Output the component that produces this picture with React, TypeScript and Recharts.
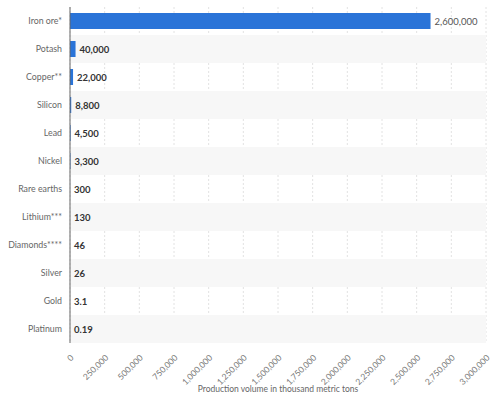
import React from "react";
import { BarChart, Bar, XAxis, YAxis, CartesianGrid, LabelList } from "recharts";

const minerals = ["Iron ore*", "Potash", "Copper**", "Silicon", "Lead", "Nickel", "Rare earths", "Lithium***", "Diamonds****", "Silver", "Gold", "Platinum"];
const volumes = [2600000, 40000, 22000, 8800, 4500, 3300, 300, 130, 46, 26, 3.1, 0.19];
const xTicks = [0, 250000, 500000, 750000, 1000000, 1250000, 1500000, 1750000, 2000000, 2250000, 2500000, 2750000, 3000000];

const data = minerals.map((name, i) => ({ name, value: volumes[i] }));

const W = 500;
const H = 402;
const margin = { top: 7, right: 14, left: 0, bottom: 0 };
const xAxisH = 59;
const yAxisW = 70;
const band = (H - margin.top - margin.bottom - xAxisH) / minerals.length;
const plotLeft = margin.left + yAxisW;
const plotW = W - plotLeft - margin.right;

const fmt = (v: number) => v.toLocaleString("en-US");
const font = "Lato, sans-serif";

function ValueLabel(props: any) {
  const { x, y, width, height, value, index } = props;
  return (
    <text
      x={x + width + 4}
      y={y + height / 2}
      dy={3.5}
      fontSize={9.5}
      fontFamily={font}
      fontWeight={index === 0 ? 400 : 700}
      fill={index === 0 ? "#555" : "#333"}
    >
      {fmt(value)}
    </text>
  );
}

function XTick(props: any) {
  const { x, y, payload } = props;
  return (
    <text x={x} y={y + 3} transform={`rotate(-45 ${x} ${y + 3})`} textAnchor="end" dy={6} fontSize={8.5} fontFamily={font} fill="#777">
      {fmt(payload.value)}
    </text>
  );
}

function YTick(props: any) {
  const { x, y, payload } = props;
  return (
    <text x={x} y={y} dy={3} textAnchor="end" fontSize={8.8} fontFamily={font} fill="#666">
      {payload.value}
    </text>
  );
}

function Band(props: any) {
  const { y, height, index } = props;
  if (index % 2 === 0) return null;
  return <rect x={plotLeft + 1} y={y + height / 2 - band / 2} width={plotW - 1} height={band} fill="#f7f7f7" />;
}

export default function App() {
  return (
    <div style={{ position: "absolute", left: 0, top: 0, background: "#fff" }}>
      <BarChart width={W} height={H} data={data} layout="vertical" margin={margin} barSize={16}>
        <CartesianGrid horizontal={false} stroke="#e2e2e2" strokeDasharray="2 2" />
        <XAxis
          type="number"
          domain={[0, 3000000]}
          ticks={xTicks}
          interval={0}
          axisLine={false}
          tickLine={false}
          height={xAxisH}
          tick={<XTick />}
          label={{ value: "Production volume in thousand metric tons", position: "insideBottom", offset: 10, fontSize: 8.5, fill: "#666", fontFamily: font }}
        />
        <YAxis
          type="category"
          dataKey="name"
          width={yAxisW}
          axisLine={{ stroke: "#666" }}
          tickLine={false}
          tick={<YTick />}
          tickMargin={2}
        />
        <Bar dataKey="value" fill="#2a74d8" background={<Band />} isAnimationActive={false}>
          <LabelList dataKey="value" content={<ValueLabel />} />
        </Bar>
      </BarChart>
    </div>
  );
}
